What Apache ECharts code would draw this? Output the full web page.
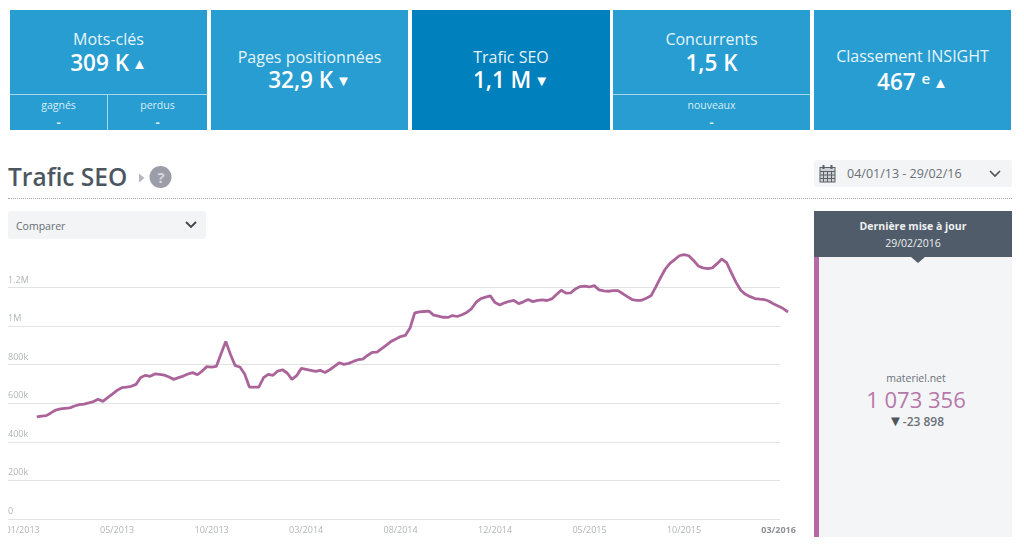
<!DOCTYPE html>
<html>
<head>
<meta charset="utf-8">
<script src="https://cdn.jsdelivr.net/npm/echarts@6/dist/echarts.min.js"></script>
<style>
    html, body { margin: 0; padding: 0; background: #fff; }
    body { width: 1024px; height: 546px; overflow: hidden; position: relative; font-family: "Open Sans", sans-serif; }
    .abs { position: absolute; }
    .card { position: absolute; top: 10px; height: 120px; background: #279dd1; color: #fff; text-align: center; }
    .card.active { background: #0080bc; }
    .card .label { position: absolute; left: 0; right: 0; font-size: 16px; line-height: 20px; color: #e6f4fa; }
    .card .num { position: absolute; left: 0; right: 0; font-size: 22.5px; line-height: 28px; font-weight: 600; }
    .card .arrow { font-size: 15px; vertical-align: 2px; margin-left: -3px; }
    .card .sup { font-size: 15px; vertical-align: 6px; }
    .card .sub { position: absolute; top: 83.5px; height: 36.5px; border-top: 1px solid #a8d8ee; box-sizing: border-box; }
    .card .sub div { font-size: 10.5px; line-height: 14px; color: #d9eef8; }
    .card .sub div.dash { font-size: 13px; font-weight: 700; margin-top: 3px; }
    .select { position: absolute; background: #f3f4f6; border-radius: 3px; color: #666d75; }
    #main { position: absolute; left: 8px; top: 240px; width: 804px; height: 300px; }
</style>
</head>
<body>

<div class="card" style="left:10px;width:197px">
    <div class="label" style="top:19px">Mots-clés</div>
    <div class="num" style="top:39px">309 K <span class="arrow">▲</span></div>
    <div class="sub" style="left:0;width:98px;border-right:1px solid #a8d8ee"><div style="margin-top:3px">gagnés</div><div class="dash">-</div></div>
    <div class="sub" style="left:98px;width:99px"><div style="margin-top:3px">perdus</div><div class="dash">-</div></div>
</div>
<div class="card" style="left:211px;width:197px">
    <div class="label" style="top:37px">Pages positionnées</div>
    <div class="num" style="top:56px">32,9 K <span class="arrow">▼</span></div>
</div>
<div class="card active" style="left:412px;width:198px">
    <div class="label" style="top:37px">Trafic SEO</div>
    <div class="num" style="top:56px">1,1 M <span class="arrow">▼</span></div>
</div>
<div class="card" style="left:613px;width:197px">
    <div class="label" style="top:19px">Concurrents</div>
    <div class="num" style="top:39px">1,5 K</div>
    <div class="sub" style="left:0;width:197px"><div style="margin-top:3px">nouveaux</div><div class="dash">-</div></div>
</div>
<div class="card" style="left:814px;width:197px">
    <div class="label" style="top:36px">Classement INSIGHT</div>
    <div class="num" style="top:54px">467 <span class="sup">e</span> <span class="arrow">▲</span></div>
</div>

<div class="abs" style="left:8px;top:159px;font-size:24.5px;line-height:36px;font-weight:600;color:#4c5661">Trafic SEO</div>
<svg class="abs" style="left:136px;top:165px" width="36" height="25">
    <path d="M3 8.5 L8.5 13 L3 17.5 Z" fill="#b5b8bd"/>
    <circle cx="24.5" cy="12" r="11" fill="#9b9da9"/>
</svg>
<div class="abs" style="left:150px;top:166px;width:22px;text-align:center;font-size:15px;line-height:22px;font-weight:700;color:#d6d7dc">?</div>
<div class="abs" style="left:8px;top:198px;width:1004px;border-top:1px dotted #a9a9a9"></div>

<div class="select" style="left:814px;top:160px;width:198px;height:27px">
    <svg class="abs" style="left:5px;top:4px" width="18" height="19" fill="none" stroke="#5b6168" stroke-width="1">
        <rect x="1" y="3.5" width="15" height="14.5" fill="#cfd2d5"/>
        <path d="M1 7.5H16M1 11H16M1 14.5H16M4.5 7.5V18M8.5 7.5V18M12.5 7.5V18"/>
        <path d="M4.5 1V5M12.5 1V5" stroke-width="2"/>
    </svg>
    <div class="abs" style="left:33px;top:5px;font-size:12.5px;line-height:18px;color:#6a7077">04/01/13 - 29/02/16</div>
    <svg class="abs" style="left:174px;top:9px" width="14" height="10" fill="none" stroke="#4d5359" stroke-width="1.6"><path d="M2 2 L7 7 L12 2"/></svg>
</div>

<div class="select" style="left:8px;top:211px;width:198px;height:28px">
    <div class="abs" style="left:8px;top:7px;font-size:10.5px;line-height:16px">Comparer</div>
    <svg class="abs" style="left:176px;top:9px" width="14" height="10" fill="none" stroke="#3f454b" stroke-width="1.8"><path d="M2 2 L7 7 L12 2"/></svg>
</div>

<div id="main"></div>

<div class="abs" style="left:814px;top:257px;width:198px;height:280px;background:#f4f5f7"></div>
<div class="abs" style="left:814px;top:257px;width:5px;height:280px;background:#b569a6"></div>
<div class="abs" style="left:814px;top:211px;width:198px;height:46px;background:#505c69;color:#eef0f2;text-align:center">
    <div style="margin-top:7px;font-size:10.5px;line-height:17px;font-weight:700">Dernière mise à jour</div>
    <div style="font-size:10.5px;line-height:17px">29/02/2016</div>
</div>
<svg class="abs" style="left:911px;top:257px" width="14" height="7"><path d="M0 0 H14 L7 6 Z" fill="#505c69"/></svg>
<div class="abs" style="left:814px;top:371px;width:204px;text-align:center;font-size:10.5px;line-height:14px;color:#6b7178">materiel.net</div>
<div class="abs" style="left:814px;top:384px;width:204px;text-align:center;font-size:22px;line-height:30px;color:#b678a8">1 073 356</div>
<div class="abs" style="left:814px;top:413px;width:204px;text-align:center;font-size:12px;line-height:16px;font-weight:600;color:#6b7178"><span style="color:#4f555b;font-size:15px;line-height:14px">▼</span>-23 898</div>

<script type="text/javascript">
    var tickLabels = ['01/2013', '05/2013', '10/2013', '03/2014', '08/2014', '12/2014', '05/2015', '10/2015', '03/2016'];
    var yLabels = ['0', '200k', '400k', '600k', '800k', '1M', '1.2M'];
    // the series starts a little after the first tick label
    var emptyWeeks = [null, null, null];
    var traffic = [
        529000, 533000, 536000, 550000, 565000, 571000, 574000, 576000, 586000, 593000,
        596000, 602000, 609000, 621000, 610000, 629000, 648000, 667000, 681000, 684000,
        688000, 698000, 734000, 745000, 740000, 752000, 750000, 746000, 736000, 724000,
        733000, 741000, 752000, 759000, 748000, 767000, 790000, 788000, 791000, 857000,
        921000, 853000, 795000, 788000, 752000, 684000, 684000, 684000, 733000, 750000,
        745000, 767000, 774000, 757000, 724000, 743000, 781000, 776000, 771000, 765000,
        771000, 760000, 774000, 791000, 810000, 802000, 807000, 817000, 826000, 829000,
        848000, 864000, 865000, 883000, 902000, 921000, 933000, 946000, 952000, 990000,
        1069000, 1074000, 1076000, 1078000, 1057000, 1052000, 1046000, 1045000, 1055000, 1050000,
        1059000, 1071000, 1090000, 1124000, 1143000, 1150000, 1157000, 1122000, 1110000, 1121000,
        1129000, 1133000, 1117000, 1126000, 1138000, 1127000, 1134000, 1136000, 1133000, 1141000,
        1164000, 1186000, 1171000, 1172000, 1193000, 1205000, 1207000, 1203000, 1210000, 1188000,
        1183000, 1181000, 1184000, 1184000, 1169000, 1153000, 1138000, 1134000, 1134000, 1145000,
        1157000, 1202000, 1250000, 1295000, 1326000, 1345000, 1365000, 1371000, 1365000, 1341000,
        1312000, 1302000, 1298000, 1302000, 1324000, 1348000, 1329000, 1277000, 1227000, 1186000,
        1165000, 1153000, 1143000, 1140000, 1138000, 1129000, 1115000, 1103000, 1091000, 1073356
    ];

    var weekData = emptyWeeks.concat(traffic);
    var categories = [];
    for (var i = 0; i < weekData.length; i++) {
        categories.push(i % 20 == 0 ? tickLabels[i / 20] : '');
    }

    var myChart = echarts.init(document.getElementById('main'));
    var option = {
        animation: false,
        // first grid holds the gridlines (they stop before the end of the line), second the series
        grid: [
            { left: 0, top: 9, width: 772, height: 270, outerBoundsMode: 'none' },
            { left: 14.6, top: 9, width: 765.4, height: 270, outerBoundsMode: 'none' }
        ],
        xAxis: [{
            gridIndex: 0,
            type: 'category',
            show: false,
            data: categories
        }, {
            gridIndex: 1,
            type: 'category',
            boundaryGap: false,
            data: categories,
            axisLine: { show: false },
            axisTick: { show: false },
            axisLabel: {
                interval: function (index) {
                    return index % 20 == 0;
                },
                margin: 7,
                fontFamily: 'Open Sans',
                fontSize: 9,
                color: '#b2b4b6',
                formatter: function (value) {
                    return value == '03/2016' ? '{last|' + value + '}' : value;
                },
                rich: {
                    last: { fontFamily: 'Open Sans', fontSize: 9, fontWeight: 'bold', color: '#8d9094' }
                }
            }
        }],
        yAxis: [{
            gridIndex: 0,
            type: 'value',
            min: 0,
            max: 1400000,
            interval: 200000,
            axisLine: { show: false },
            axisTick: { show: false },
            axisLabel: {
                inside: true,
                margin: 0,
                verticalAlign: 'bottom',
                showMaxLabel: false,
                padding: [0, 0, 3, 0],
                fontFamily: 'Open Sans',
                fontSize: 9,
                color: '#b2b4b6',
                formatter: function (value) {
                    return yLabels[value / 200000] || '';
                }
            },
            splitLine: {
                showMaxLine: false,
                lineStyle: { color: '#e2e3e5', width: 1 }
            }
        }, {
            gridIndex: 1,
            type: 'value',
            min: 0,
            max: 1400000,
            interval: 200000,
            show: false
        }],
        series: [{
            name: 'materiel.net',
            type: 'line',
            xAxisIndex: 1,
            yAxisIndex: 1,
            data: weekData,
            showSymbol: false,
            smooth: false,
            lineStyle: { color: '#ab6499', width: 2.8 },
            itemStyle: { color: '#ab6499' }
        }]
    };
    myChart.setOption(option);
</script>
</body>
</html>
